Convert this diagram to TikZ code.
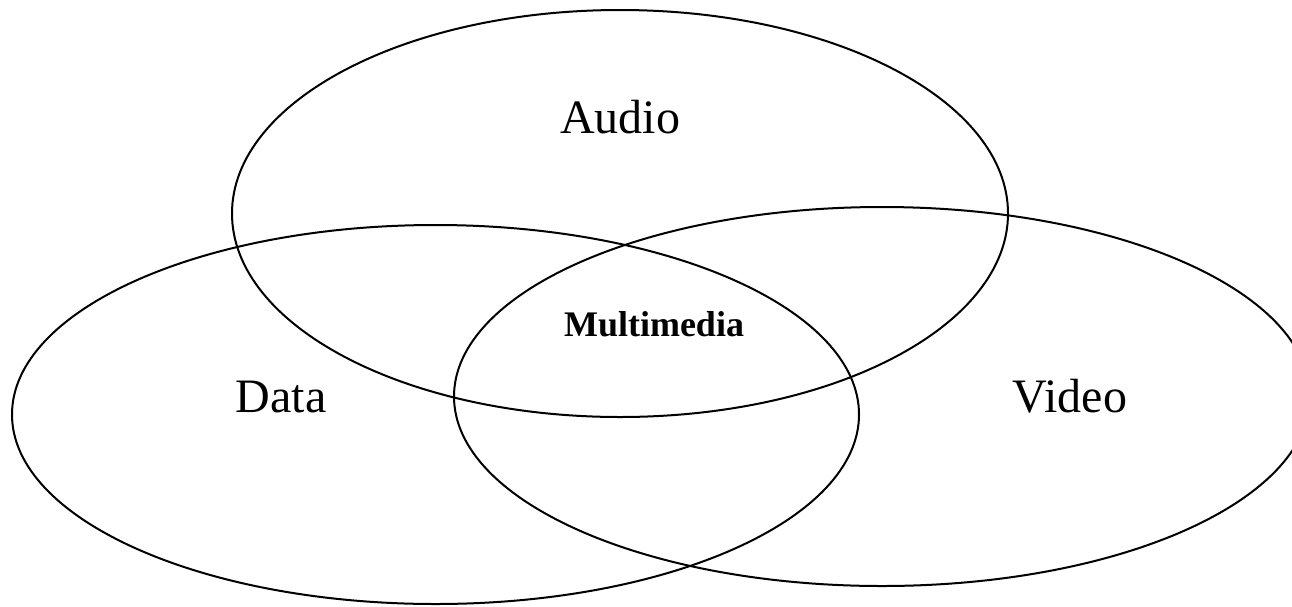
\documentclass[tikz,border=0pt]{standalone}
\usepackage{fontspec}
\setmainfont{Liberation Serif}
\usetikzlibrary{positioning,shapes.geometric}

\begin{document}
\begin{tikzpicture}[
    x=1pt, y=-1pt,
    set/.style={draw, ellipse, line width=2pt, inner sep=0pt},
    label/.style={anchor=base, font=\fontsize{48}{52}\selectfont},
    core/.style={anchor=base, font=\fontsize{36}{40}\selectfont\bfseries}
  ]
    \useasboundingbox (0,0) rectangle (1292,606);
    % Sets
    \node[set, minimum width=776pt, minimum height=407pt] (audio) at (620,213.5) {};
    \node[set, minimum width=847pt, minimum height=379pt] (data) at (435.5,414.5) {};
    \node[set, minimum width=856pt, minimum height=379pt] (video) at (882,396.5) {};
    % Labels
    \node[label] (audiotxt) at (620,133) {Audio};
    \node[label] (datatxt) at (281,412) {Data};
    \node[label] (videotxt) at (1070,412) {Video};
    \node[core] (mm) at (654,336) {Multimedia};
  \end{tikzpicture}
\end{document}
